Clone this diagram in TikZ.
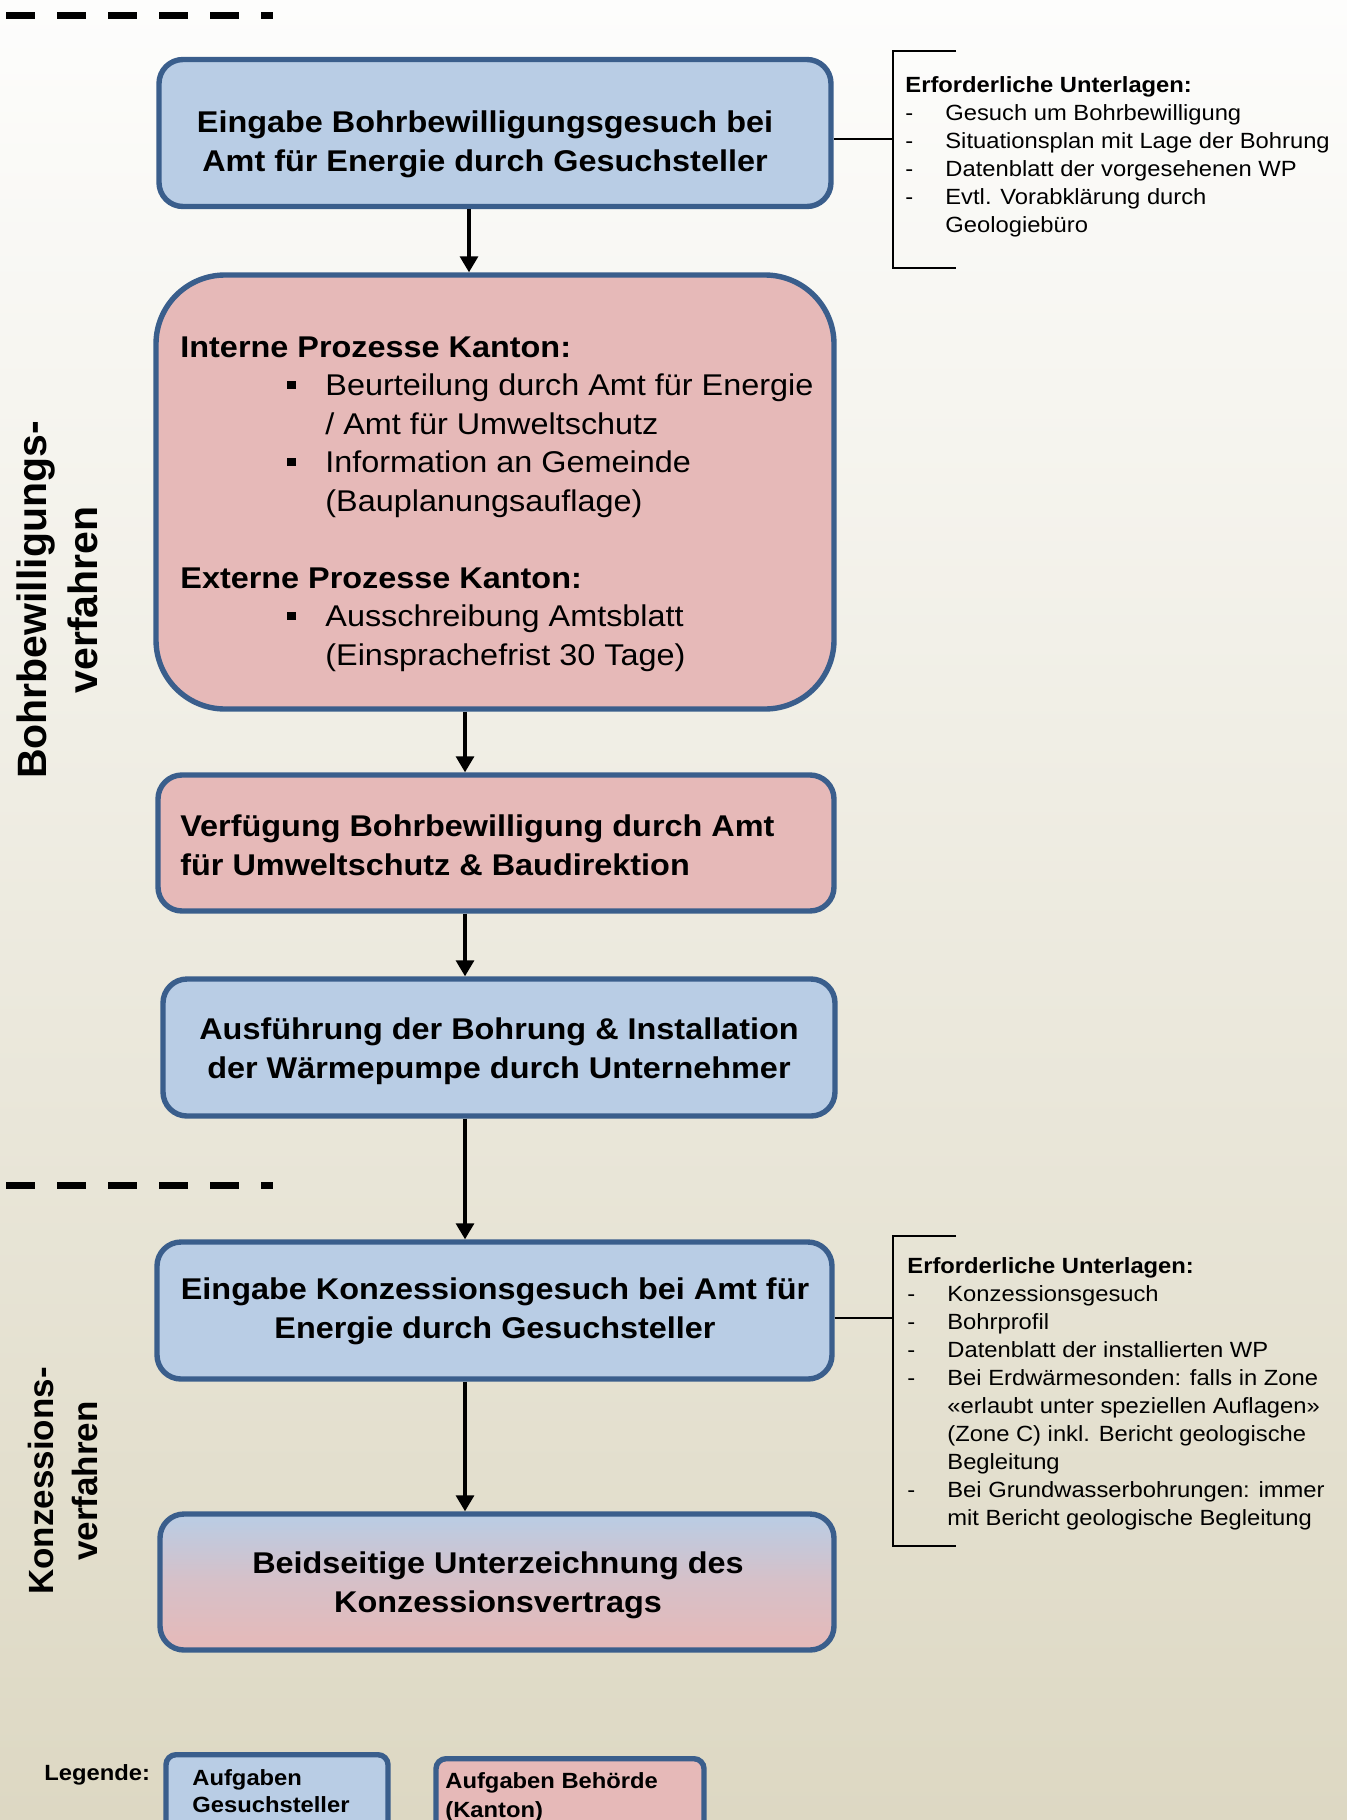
\documentclass[tikz,border=0pt]{standalone}
\usepackage{fontspec}
\setmainfont{Liberation Sans}[FakeStretch=1.08]
\newfontfamily\labelfont{Liberation Sans}
\usepackage{tikz}
\usetikzlibrary{calc}
\usetikzlibrary{arrows.meta}

\definecolor{bgtop}{HTML}{FDFDFC}
\definecolor{bgbot}{HTML}{DDD8C3}
\definecolor{antrag}{HTML}{B9CDE5}
\definecolor{behoerde}{HTML}{E6B9B8}
\definecolor{rand}{HTML}{3A5E8C}

\newcommand{\bul}{\hspace*{53.5pt}\makebox[19pt][l]{\rule[3.5pt]{4.3pt}{4pt}}}
\newcommand{\einzug}{\hspace*{72.5pt}}

\begin{document}
\begin{tikzpicture}[x=0.5pt,y=-0.5pt,
    aufgabe/.style={draw=rand, line width=2.7pt, rounded corners=12pt, inner sep=0pt},
    gesuch/.style={aufgabe, fill=antrag},
    kanton/.style={aufgabe, fill=behoerde},
    boxtext/.style={inner sep=0pt, font=\fontsize{15}{19.25}\selectfont\bfseries},
    listtext/.style={inner sep=0pt, align=left, anchor=base west, font=\fontsize{11}{14}\selectfont},
    legtext/.style={inner sep=0pt, align=left, anchor=base west},
    pfeil/.style={line width=1.6pt, -{Triangle[length=8pt,width=9pt]}},
    klammer/.style={line width=1.3pt},
    trenner/.style={line width=3.5pt, dash pattern=on 14.5pt off 11pt},
    verfahren/.style={inner sep=0pt, rotate=90, anchor=base, align=center}]

    % Page size and background
    \useasboundingbox (0,0) rectangle (1347,1820);
    \shade[top color=bgtop, bottom color=bgbot] (0,0) rectangle (1347,1820);

    % Separators of the two procedures
    \draw[trenner] (6,15) -- (273,15);
    \draw[trenner] (6,1185) -- (273,1185);

    % Procedure labels (base = last line)
    \node[verfahren, font=\labelfont\bfseries\fontsize{20.5}{25}\selectfont] (v1) at (97,600) {Bohrbewilligungs-\\verfahren};
    \node[verfahren, font=\labelfont\bfseries\fontsize{17.5}{22}\selectfont] (v2) at (97,1481) {Konzessions-\\verfahren};

    % Process boxes
    \node[gesuch, minimum width=336pt, minimum height=73.5pt] (b1) at (495,133) {};
    \node[kanton, rounded corners=34.5pt, minimum width=339pt, minimum height=217pt] (b2) at (495,492) {};
    \node[kanton, minimum width=338pt, minimum height=68pt] (b3) at (496,843) {};
    \node[gesuch, minimum width=336pt, minimum height=68.5pt] (b4) at (499,1047.5) {};
    \node[gesuch, minimum width=337.5pt, minimum height=68.5pt] (b5) at (494.5,1310.5) {};
    \node[aufgabe, top color=antrag, bottom color=behoerde, middle color=behoerde!65!antrag, minimum width=337pt, minimum height=68pt] (b6) at (497,1582) {};

    % Box texts (anchored at the last baseline)
    \node[boxtext, align=center, anchor=base] (t1) at (485,171) {Eingabe Bohrbewilligungsgesuch bei\\Amt für Energie durch Gesuchsteller};
    \node[inner sep=0pt, align=left, anchor=base west, font=\fontsize{15}{19.25}\selectfont] (t2) at (180,665) {\textbf{Interne Prozesse Kanton:}\\
        \bul Beurteilung durch Amt für Energie\\
        \einzug / Amt für Umweltschutz\\
        \bul Information an Gemeinde\\
        \einzug (Bauplanungsauflage)\\[19.25pt]
        \textbf{Externe Prozesse Kanton:}\\
        \bul Ausschreibung Amtsblatt\\
        \einzug (Einsprachefrist 30 Tage)};
    \node[boxtext, align=left, anchor=base west] (t3) at (180,875) {Verfügung Bohrbewilligung durch Amt\\für Umweltschutz \& Baudirektion};
    \node[boxtext, align=center, anchor=base] (t4) at (499,1078) {Ausführung der Bohrung \& Installation\\der Wärmepumpe durch Unternehmer};
    \node[boxtext, align=center, anchor=base] (t5) at (495,1338) {Eingabe Konzessionsgesuch bei Amt für\\Energie durch Gesuchsteller};
    \node[boxtext, align=center, anchor=base] (t6) at (498,1612) {Beidseitige Unterzeichnung des\\Konzessionsvertrags};

    % Arrows
    \coordinate (ax1) at (469,0);
    \coordinate (ax2) at (465,0);
    \draw[pfeil] (b1.south -| ax1) -- (b2.north -| ax1);
    \draw[pfeil] (b2.south -| ax2) -- (b3.north -| ax2);
    \draw[pfeil] (b3.south -| ax2) -- (b4.north -| ax2);
    \draw[pfeil] (b4.south -| ax2) -- (b5.north -| ax2);
    \draw[pfeil] (b5.south -| ax2) -- (b6.north -| ax2);

    % Required documents, Bohrbewilligung
    \coordinate (k1) at (893,139);
    \draw[klammer] (956,51) -- (893,51) -- (893,268) -- (956,268);
    \draw[klammer] (b1.east |- k1) -- (k1);
    \node[listtext] (u1) at (905,232) {\textbf{Erforderliche Unterlagen:}\\
        \makebox[20pt][l]{-}Gesuch um Bohrbewilligung\\
        \makebox[20pt][l]{-}Situationsplan mit Lage der Bohrung\\
        \makebox[20pt][l]{-}Datenblatt der vorgesehenen WP\\
        \makebox[20pt][l]{-}Evtl. Vorabklärung durch\\
        \makebox[20pt][l]{}Geologiebüro};

    % Required documents, Konzession
    \coordinate (k2) at (893,1318);
    \draw[klammer] (956,1236) -- (893,1236) -- (893,1546) -- (956,1546);
    \draw[klammer] (b5.east |- k2) -- (k2);
    \node[listtext] (u2) at (907,1525) {\textbf{Erforderliche Unterlagen:}\\
        \makebox[20pt][l]{-}Konzessionsgesuch\\
        \makebox[20pt][l]{-}Bohrprofil\\
        \makebox[20pt][l]{-}Datenblatt der installierten WP\\
        \makebox[20pt][l]{-}Bei Erdwärmesonden: falls in Zone\\
        \makebox[20pt][l]{}«erlaubt unter speziellen Auflagen»\\
        \makebox[20pt][l]{}(Zone C) inkl. Bericht geologische\\
        \makebox[20pt][l]{}Begleitung\\
        \makebox[20pt][l]{-}Bei Grundwasserbohrungen: immer\\
        \makebox[20pt][l]{}mit Bericht geologische Begleitung};

    % Legend
    \node[legtext, font=\fontsize{11}{14}\selectfont\bfseries] (lg) at (44,1780) {Legende:};
    \node[gesuch, rounded corners=5pt, anchor=north, minimum width=111pt, minimum height=45pt] (l1) at (277,1752) {};
    \node[kanton, rounded corners=5pt, anchor=north, minimum width=134pt, minimum height=45pt] (l2) at (570,1756) {};
    \node[legtext, font=\fontsize{11}{13.5}\selectfont\bfseries] (lt1) at (192,1812) {Aufgaben\\Gesuchsteller};
    \node[legtext, font=\fontsize{11}{14.5}\selectfont\bfseries] (lt2) at (445,1817) {Aufgaben Behörde\\(Kanton)};

\end{tikzpicture}
\end{document}
